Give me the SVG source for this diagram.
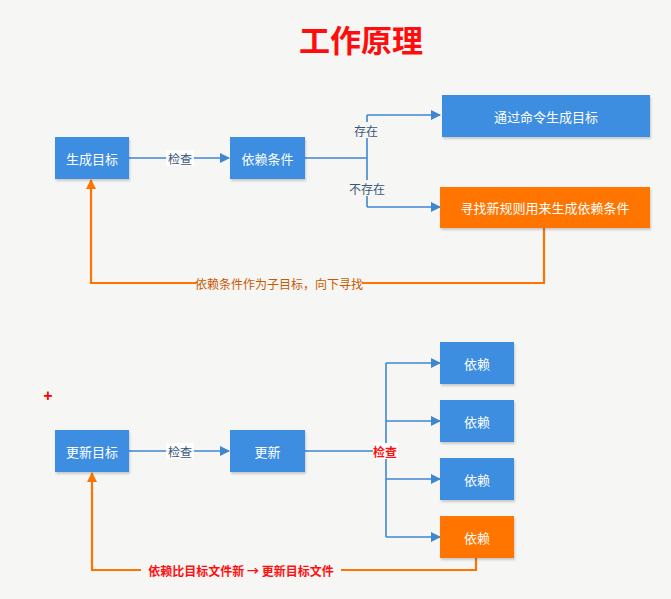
<svg xmlns="http://www.w3.org/2000/svg" width="671" height="599" viewBox="0 0 671 599">
<defs>
<style>
.bg{fill:#f6f6f5}
.box{fill:#3c8ee0;filter:url(#sh)}
.obox{fill:#ff7400;filter:url(#sh)}
.bt{font-family:"Noto Sans CJK SC","Noto Sans",sans-serif;font-size:13px;fill:#ffffff;text-anchor:middle;dominant-baseline:central}
.ln{fill:none;stroke:#3f86d0;stroke-width:1.6}
.oln{fill:none;stroke:#ff7400;stroke-width:2.2}
.lab{font-family:"Noto Sans CJK SC","Noto Sans",sans-serif;font-size:12px;fill:#3a5678;text-anchor:middle;dominant-baseline:central}
.olab{font-family:"Noto Sans CJK SC","Noto Sans",sans-serif;font-size:12px;fill:#c85a00;text-anchor:middle;dominant-baseline:central}
.rlab{font-family:"Noto Sans CJK SC","Noto Sans",sans-serif;font-size:12px;fill:#ff1010;text-anchor:middle;dominant-baseline:central}
.lbg{fill:#ffffff}
</style>
<filter id="sh" x="-10%" y="-10%" width="130%" height="140%">
<feDropShadow dx="1" dy="2" stdDeviation="1.2" flood-color="#000" flood-opacity="0.18"/>
</filter>
<marker id="ab" viewBox="0 0 10 10" refX="9" refY="5" markerWidth="10" markerHeight="10" markerUnits="userSpaceOnUse" orient="auto">
<path d="M0,0 L10,5 L0,10 z" fill="#3f86d0"/>
</marker>
<marker id="ao" viewBox="0 0 10 10" refX="9" refY="5" markerWidth="10" markerHeight="10" markerUnits="userSpaceOnUse" orient="auto">
<path d="M0,0 L10,5 L0,10 z" fill="#ff7400"/>
</marker>
</defs>
<rect class="bg" x="0" y="0" width="671" height="599"/>
<text x="361" y="38" font-family="'Noto Sans CJK SC',sans-serif" font-size="31" font-weight="bold" fill="#ff0d0d" text-anchor="middle" dominant-baseline="central">工作原理</text>
<text x="48" y="395" font-family="'Liberation Sans',sans-serif" font-size="16" font-weight="bold" fill="#ff0000" text-anchor="middle" dominant-baseline="central">+</text>

<g id="connectors">
<path class="ln" d="M129,158 H229" marker-end="url(#ab)"/>
<path class="ln" d="M305,158 H367 M367,115 V207"/>
<path class="ln" d="M367,115 H440" marker-end="url(#ab)"/>
<path class="ln" d="M367,207 H440" marker-end="url(#ab)"/>
<path class="oln" d="M544,228 V283 H91 V180" marker-end="url(#ao)"/>
<rect class="lbg" x="166" y="150" width="28" height="16" fill-opacity="0.85"/>
<text class="lab" x="180" y="158">检查</text>
<rect class="bg" x="352" y="122" width="28" height="16"/>
<text class="lab" x="366" y="130">存在</text>
<rect class="bg" x="347" y="180" width="40" height="16"/>
<text class="lab" x="367" y="188">不存在</text>
<rect class="bg" x="196" y="275" width="166" height="16"/>
<text class="olab" x="279" y="283">依赖条件作为子目标，向下寻找</text>

<path class="ln" d="M129,451 H229" marker-end="url(#ab)"/>
<path class="ln" d="M305,451 H386 M386,363 V537"/>
<path class="ln" d="M386,363 H440" marker-end="url(#ab)"/>
<path class="ln" d="M386,421 H440" marker-end="url(#ab)"/>
<path class="ln" d="M386,479 H440" marker-end="url(#ab)"/>
<path class="ln" d="M386,537 H440" marker-end="url(#ab)"/>
<path class="oln" d="M476,558 V570 H92 V473" marker-end="url(#ao)"/>
<rect class="lbg" x="166" y="443" width="28" height="16" fill-opacity="0.85"/>
<text class="lab" x="180" y="451">检查</text>
<rect class="lbg" x="373" y="443" width="25" height="16"/>
<text class="rlab" x="385" y="451" font-weight="bold">检查</text>
<rect class="bg" x="141" y="562" width="200" height="16"/>
<text class="rlab" x="241" y="570" font-size="13" font-weight="bold">依赖比目标文件新 → 更新目标文件</text>
</g>

<g id="n1"><rect class="box" x="55" y="137" width="74" height="42"/><text class="bt" x="92" y="158">生成目标</text></g>
<g id="n2"><rect class="box" x="230" y="137" width="75" height="42"/><text class="bt" x="267.5" y="158">依赖条件</text></g>
<g id="n3"><rect class="box" x="442" y="95" width="208" height="42"/><text class="bt" x="546" y="116">通过命令生成目标</text></g>
<g id="n4"><rect class="obox" x="440" y="187" width="210" height="41"/><text class="bt" x="545" y="207.5">寻找新规则用来生成依赖条件</text></g>

<g id="n5"><rect class="box" x="55" y="430" width="74" height="42"/><text class="bt" x="92" y="451">更新目标</text></g>
<g id="n6"><rect class="box" x="230" y="430" width="75" height="42"/><text class="bt" x="267.5" y="451">更新</text></g>
<g id="n7"><rect class="box" x="440" y="342" width="74" height="42"/><text class="bt" x="477" y="363">依赖</text></g>
<g id="n8"><rect class="box" x="440" y="400" width="74" height="42"/><text class="bt" x="477" y="421">依赖</text></g>
<g id="n9"><rect class="box" x="440" y="458" width="74" height="42"/><text class="bt" x="477" y="479">依赖</text></g>
<g id="n10"><rect class="obox" x="440" y="516" width="74" height="42"/><text class="bt" x="477" y="537">依赖</text></g>
</svg>
